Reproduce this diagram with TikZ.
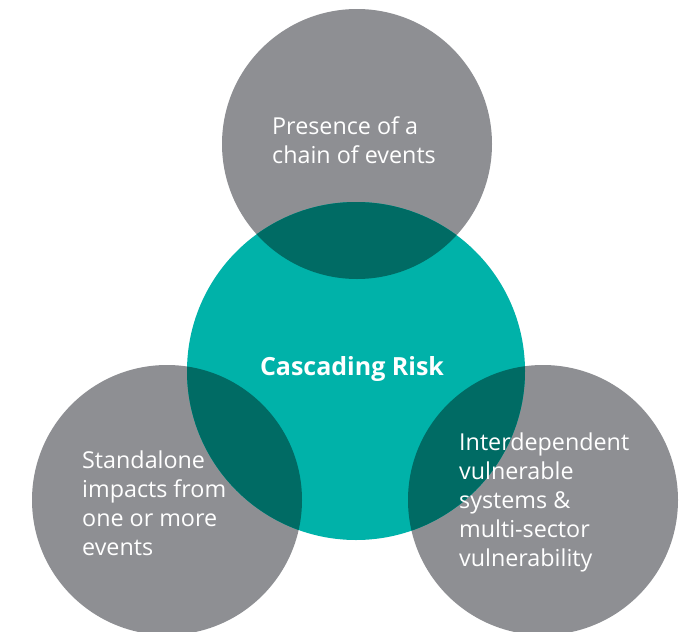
\documentclass[tikz,border=0pt]{standalone}
\usepackage{fontspec}
\setmainfont{Open Sans}
\usepackage{tikz}
\usetikzlibrary{positioning}
\definecolor{riskgray}{HTML}{8E8F93}
\definecolor{riskteal}{HTML}{00B2A9}
\definecolor{riskdark}{HTML}{006B64}
\tikzset{
  label text/.style={text=white,align=left,anchor=base west,inner sep=0pt,
    font=\fontsize{23.3}{29}\selectfont},
  main text/.style={text=white,anchor=base,inner sep=0pt,
    font=\fontsize{25}{29}\selectfont\bfseries}
}

\begin{document}
\begin{tikzpicture}[x=1pt,y=-1pt]
\useasboundingbox (0,0) rectangle (691,632);
\coordinate (ctop) at (357,144);
\coordinate (cmid) at (356,371);
\coordinate (cleft) at (167,500);
\coordinate (cright) at (543,500);
% the four discs
\fill[riskgray] (ctop) circle (135);
\fill[riskgray] (cleft) circle (135);
\fill[riskgray] (cright) circle (135);
\fill[riskteal] (cmid) circle (169);
% overlaps
\begin{scope}
\clip (cmid) circle (169);
\fill[riskdark] (ctop) circle (135);
\fill[riskdark] (cleft) circle (135);
\fill[riskdark] (cright) circle (135);
\end{scope}
% labels (base = last line)
\node[main text] (risk) at (352,375) {Cascading Risk};
\node[label text] (chain) at (272,163) {Presence of a\\chain of events};
\node[label text] (standalone) at (82,555) {Standalone\\impacts from\\one or more\\events};
\node[label text] (systems) at (459,566) {Interdependent\\vulnerable\\systems \&\\multi-sector\\vulnerability};
\end{tikzpicture}
\end{document}
